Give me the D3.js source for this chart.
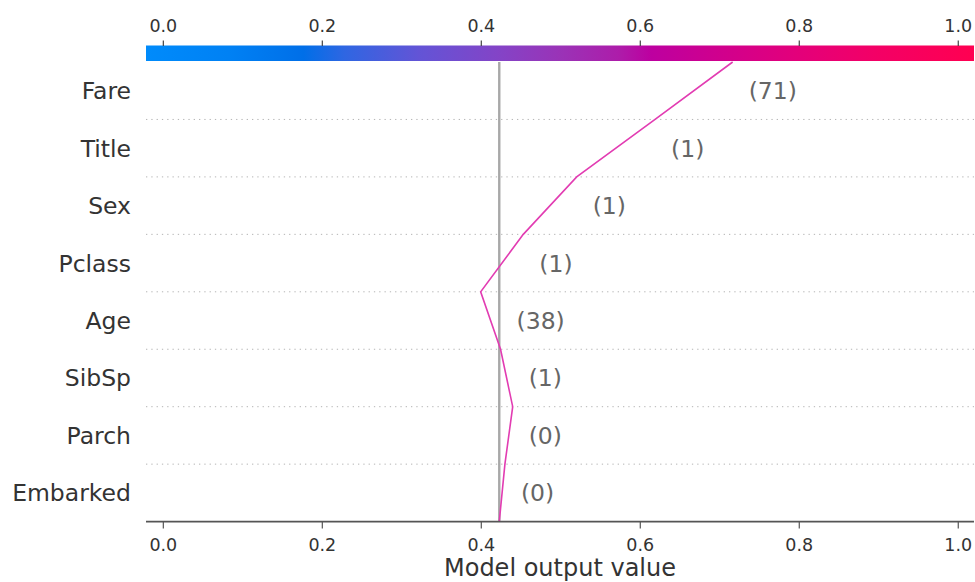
<!DOCTYPE html>
<html>
<head>
<meta charset="utf-8">
<script src="https://cdn.jsdelivr.net/npm/d3@7"></script>
<style>
  body { margin: 0; background: #fff; }
  text { font-family: "DejaVu Sans", sans-serif; }
</style>
</head>
<body>
<svg id="chart" width="975" height="582"></svg>
<script>
// Data (top row first)
const features = ['Fare', 'Title', 'Sex', 'Pclass', 'Age', 'SibSp', 'Parch', 'Embarked'];
const featureValues = [71, 1, 1, 1, 38, 1, 0, 0];
const shapValues = [0.0976, 0.0986, 0.0672, 0.0536, -0.025, -0.0153, 0.0098, 0.0071];
const baseValue = 0.4226;
const tickValues = [0.0, 0.2, 0.4, 0.6, 0.8, 1.0];
const xLabel = 'Model output value';

// colorbar stops
const cbarOffsets = [0, 0.1, 0.19, 0.24, 0.33, 0.43, 0.5, 0.57, 0.61, 0.68, 0.78, 0.88, 1];
const cbarColors = ['#008bfb', '#0081f4', '#006fe8', '#2f66e2', '#6354d6', '#8543c6', '#9a33b7',
  '#ad1daa', '#bd00a0', '#cd0090', '#e2007c', '#f30066', '#ff0051'];

var width = 975, height = 582;
var plotLeft = 146, plotRight = 974, plotTop = 62, plotBottom = 521.6;

var svg = d3.select('#chart');

var x = d3.scaleLinear().domain([-0.0218, 1.0198]).range([plotLeft, plotRight]);
var y = d3.scaleBand().domain(features).range([plotTop, plotBottom]);

// cumulative output at each row boundary, bottom (base) to top
var rev = features.slice().reverse();
var revShap = shapValues.slice().reverse();
var cum = [baseValue].concat(Array.from(d3.cumsum(revShap), function(v) { return baseValue + v; }));
var points = cum.map(function(v, i) {
  var yy = i == 0 ? plotBottom : y(rev[i - 1]);
  return [x(v), yy];
});

// grid lines between rows
svg.append('g')
  .selectAll('line')
  .data(features.slice(1))
  .join('line')
  .attr('x1', plotLeft).attr('x2', plotRight)
  .attr('y1', function(d) { return y(d); })
  .attr('y2', function(d) { return y(d); })
  .attr('stroke', '#b4b4b4')
  .attr('stroke-width', 1)
  .attr('stroke-dasharray', '1.3 4');

// base value line
svg.append('line')
  .attr('x1', x(baseValue)).attr('x2', x(baseValue))
  .attr('y1', plotTop).attr('y2', plotBottom)
  .attr('stroke', '#a8a8a8')
  .attr('stroke-width', 2.4);

// feature labels
svg.append('g')
  .selectAll('text')
  .data(features)
  .join('text')
  .attr('x', 131)
  .attr('y', function(d) { return y(d) + y.bandwidth() / 2 + 8.5; })
  .attr('text-anchor', 'end')
  .attr('font-size', 23.5)
  .attr('fill', '#333')
  .text(function(d) { return d; });

// decision line
svg.append('path')
  .datum(points)
  .attr('d', d3.line())
  .attr('fill', 'none')
  .attr('stroke', '#e23cb2')
  .attr('stroke-width', 1.6);

// feature values next to the line
svg.append('g')
  .selectAll('text')
  .data(features)
  .join('text')
  .attr('x', function(d, i) {
    var k = features.length - 1 - i;
    return x(Math.max(cum[k], cum[k + 1])) + 16;
  })
  .attr('y', function(d) { return y(d) + y.bandwidth() / 2 + 8.5; })
  .attr('font-size', 23.5)
  .attr('fill', '#666')
  .text(function(d, i) { return '(' + featureValues[i] + ')'; });

// bottom axis
var axis = svg.append('g');
axis.append('line')
  .attr('x1', plotLeft).attr('x2', plotRight)
  .attr('y1', plotBottom).attr('y2', plotBottom)
  .attr('stroke', '#555').attr('stroke-width', 1.6);
axis.selectAll('line.tick')
  .data(tickValues)
  .join('line')
  .attr('class', 'tick')
  .attr('x1', function(d) { return x(d); }).attr('x2', function(d) { return x(d); })
  .attr('y1', plotBottom).attr('y2', plotBottom + 7)
  .attr('stroke', '#555').attr('stroke-width', 1.2);
axis.selectAll('text')
  .data(tickValues)
  .join('text')
  .attr('x', function(d) { return x(d); })
  .attr('y', 550.5)
  .attr('text-anchor', 'middle')
  .attr('font-size', 17.5)
  .attr('fill', '#333')
  .text(function(d) { return d3.format('.1f')(d); });
svg.append('text')
  .attr('x', (plotLeft + plotRight) / 2)
  .attr('y', 576)
  .attr('text-anchor', 'middle')
  .attr('font-size', 24)
  .attr('fill', '#333')
  .text(xLabel);

// colorbar
var grad = svg.append('defs').append('linearGradient')
  .attr('id', 'cbar')
  .attr('x1', '0%').attr('x2', '100%');
grad.selectAll('stop')
  .data(cbarOffsets)
  .join('stop')
  .attr('offset', function(d) { return (d * 100) + '%'; })
  .attr('stop-color', function(d, i) { return cbarColors[i]; });
svg.append('rect')
  .attr('x', plotLeft).attr('y', 45.5)
  .attr('width', plotRight - plotLeft).attr('height', 15.5)
  .attr('fill', 'url(#cbar)');
svg.append('g')
  .selectAll('line')
  .data(tickValues)
  .join('line')
  .attr('x1', function(d) { return x(d); }).attr('x2', function(d) { return x(d); })
  .attr('y1', 40.5).attr('y2', 46)
  .attr('stroke', '#444').attr('stroke-width', 1.2);
svg.append('g')
  .selectAll('text')
  .data(tickValues)
  .join('text')
  .attr('x', function(d) { return x(d); })
  .attr('y', 31.5)
  .attr('text-anchor', 'middle')
  .attr('font-size', 17.5)
  .attr('fill', '#333')
  .text(function(d) { return d3.format('.1f')(d); });
</script>
</body>
</html>
